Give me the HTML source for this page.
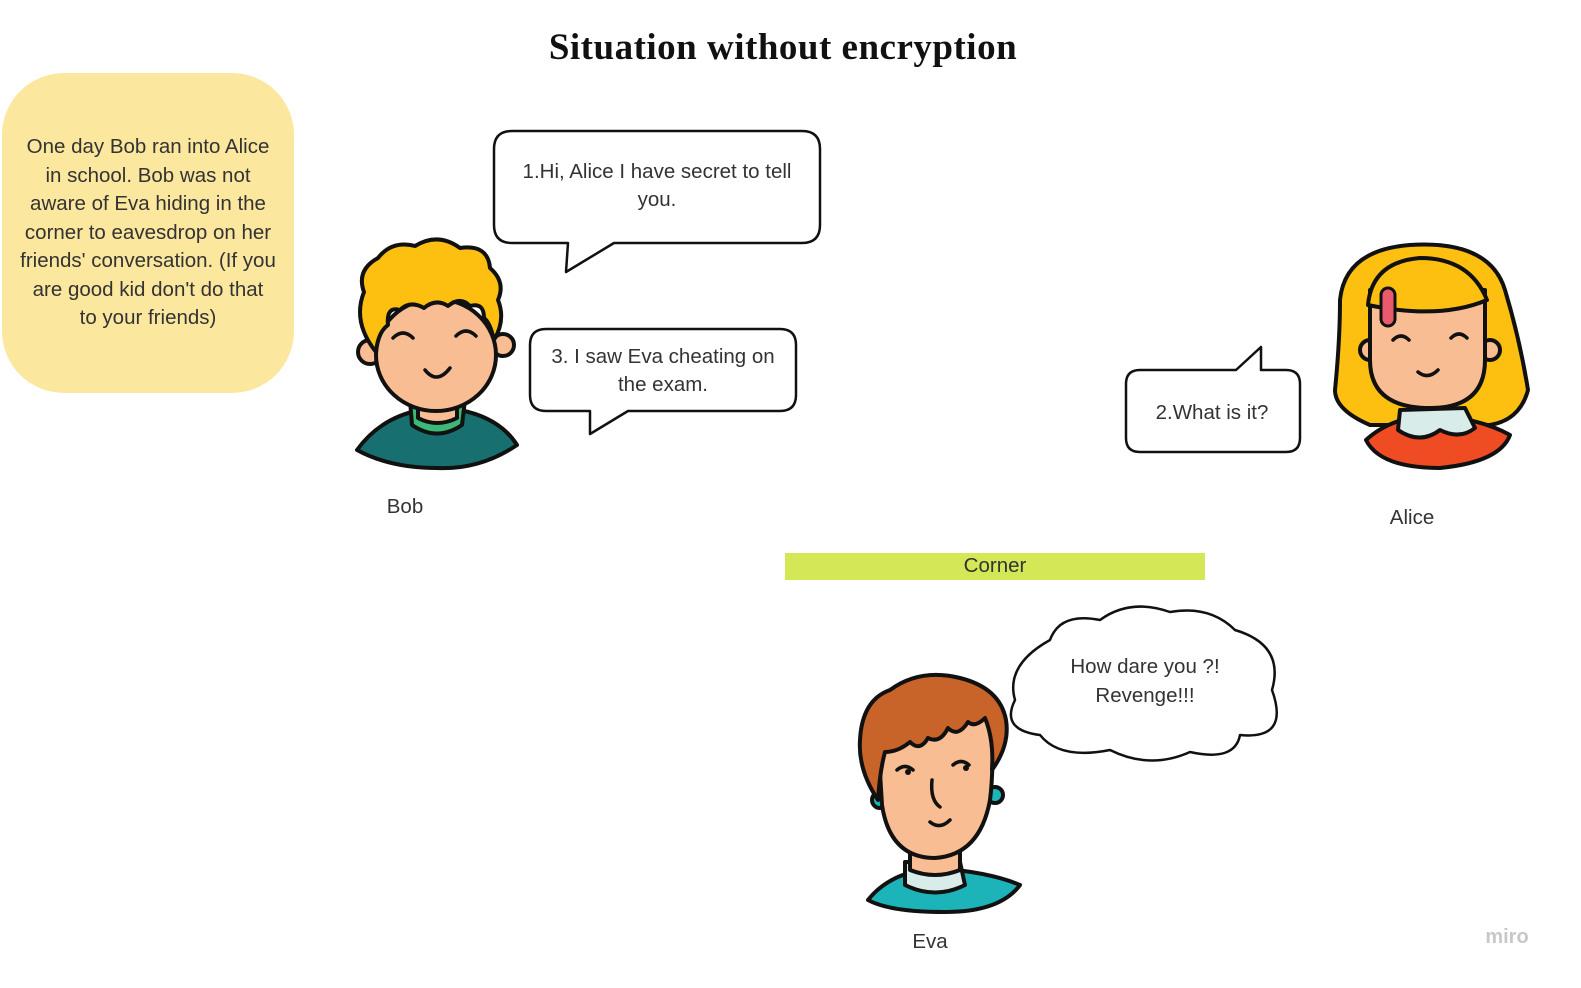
<!DOCTYPE html>
<html><head><meta charset="utf-8"><style>
html,body{margin:0;padding:0;background:#fff;}
svg{display:block}
text{font-family:"Liberation Sans",sans-serif;fill:#333;}
</style></head><body>
<svg width="1581" height="988" viewBox="0 0 1581 988" xmlns="http://www.w3.org/2000/svg">
<text x="783" y="59" text-anchor="middle" style="font-family:'Liberation Serif',serif;font-weight:bold;font-size:37px;letter-spacing:0.5px;fill:#111">Situation without  encryption</text>

<rect x="2" y="73" width="292" height="320" rx="62" fill="#fce79f"/>
<g font-size="20.5" text-anchor="middle">
<text x="148" y="153">One day Bob ran into Alice</text>
<text x="148" y="182">in school. Bob was not</text>
<text x="148" y="210">aware of Eva hiding in the</text>
<text x="148" y="239">corner to eavesdrop on her</text>
<text x="148" y="267">friends' conversation. (If you</text>
<text x="148" y="296">are good kid don't do that</text>
<text x="148" y="324">to your friends)</text>
</g>

<g fill="#fff" stroke="#111" stroke-width="2.5" stroke-linejoin="round">
<path d="M512 131 H802 Q820 131 820 149 V225 Q820 243 802 243 H614 L566 272 L568 243 H512 Q494 243 494 225 V149 Q494 131 512 131 Z"/>
<path d="M546 329 H780 Q796 329 796 345 V395 Q796 411 780 411 H628 L590 434 L590 411 H546 Q530 411 530 395 V345 Q530 329 546 329 Z"/>
<path d="M1140 370 H1236 L1261 347 V370 H1286 Q1300 370 1300 384 V438 Q1300 452 1286 452 H1140 Q1126 452 1126 438 V384 Q1126 370 1140 370 Z"/>
<path d="M1050 640 Q1060 612 1100 620 Q1130 598 1170 612 Q1210 605 1235 630 Q1285 645 1272 690 Q1290 740 1240 735 Q1235 762 1190 752 Q1150 770 1110 750 Q1060 760 1040 735 Q1000 730 1015 700 Q1005 665 1050 640 Z"/>
</g>
<g font-size="20.5" text-anchor="middle">
<text x="657" y="178">1.Hi, Alice I have secret to tell</text>
<text x="657" y="206">you.</text>
<text x="663" y="363">3. I saw Eva cheating on</text>
<text x="663" y="391">the exam.</text>
<text x="1212" y="419">2.What is it?</text>
<text x="1145" y="673">How dare you ?!</text>
<text x="1145" y="702">Revenge!!!</text>
</g>

<rect x="785" y="553" width="420" height="27" fill="#d4e857"/>
<text x="995" y="572" font-size="20.5" text-anchor="middle">Corner</text>

<g font-size="20.5" text-anchor="middle">
<text x="405" y="513">Bob</text>
<text x="1412" y="524">Alice</text>
<text x="930" y="948">Eva</text>
</g>
<text x="1507" y="943" font-size="20" text-anchor="middle" style="fill:#c8c8c8;font-weight:bold">miro</text>

<!-- Bob -->
<g stroke="#111" stroke-width="4" stroke-linejoin="round" stroke-linecap="round">
<path d="M357 450 Q380 418 420 410 H460 Q500 418 517 445 Q480 470 437 468 Q390 468 357 450 Z" fill="#17706f"/>
<path d="M410 400 L412 425 Q437 442 462 425 L465 400 Z" fill="#3cb878"/>
<path d="M418 395 V418 Q437 428 457 418 V395 Z" fill="#f9bd93"/>
<circle cx="370" cy="352" r="12" fill="#f9bd93"/>
<circle cx="503" cy="345" r="11" fill="#f9bd93"/>
<ellipse cx="436" cy="355" rx="60" ry="56" fill="#f9bd93"/>
<path d="M376 352 Q352 322 364 292 Q356 270 378 258 Q392 240 415 246 Q438 232 460 248 Q488 244 490 268 Q506 282 498 300 Q506 320 494 340 Q490 322 484 318 Q484 302 470 306 Q460 296 448 306 Q436 298 424 308 Q410 300 400 310 Q386 306 388 325 Q378 332 376 352 Z" fill="#fdc010"/>
<path d="M393 338 Q403 328 413 338 M456 336 Q466 326 476 336" fill="none" stroke-width="3.5"/>
<path d="M425 370 Q437 385 450 368" fill="none" stroke-width="3.5"/>
</g>

<!-- Alice -->
<g stroke="#111" stroke-width="4" stroke-linejoin="round" stroke-linecap="round">
<path d="M1340 300 Q1345 250 1410 245 Q1490 240 1505 290 Q1520 340 1528 390 Q1520 420 1490 425 L1370 425 Q1335 410 1335 390 Q1340 340 1340 300 Z" fill="#fdc010"/>
<path d="M1366 440 Q1390 418 1430 415 Q1480 418 1510 435 Q1500 462 1440 468 Q1380 468 1366 440 Z" fill="#f04c24"/>
<path d="M1400 410 L1398 430 Q1420 445 1440 430 Q1460 440 1475 428 L1465 408 Z" fill="#d8ecea"/>
<circle cx="1370" cy="350" r="10" fill="#f9bd93"/>
<circle cx="1490" cy="350" r="10" fill="#f9bd93"/>
<path d="M1370 290 H1485 V360 Q1485 408 1430 408 Q1370 408 1370 360 Z" fill="#f9bd93"/>
<path d="M1368 305 Q1372 262 1420 258 Q1470 258 1487 300 Q1440 320 1368 305 Z" fill="#fdc010"/>
<rect x="1381" y="288" width="14" height="38" rx="7" fill="#e85a6c" stroke-width="3"/>
<path d="M1393 340 Q1401 332 1409 340 M1451 338 Q1459 330 1467 338" fill="none" stroke-width="3.5"/>
<path d="M1418 372 Q1428 380 1438 370" fill="none" stroke-width="3.5"/>
</g>

<!-- Eva -->
<g stroke="#111" stroke-width="4" stroke-linejoin="round" stroke-linecap="round">
<path d="M868 900 Q890 872 935 868 Q990 872 1020 885 Q1000 912 945 912 Q890 912 868 900 Z" fill="#1db4b9"/>
<path d="M905 862 L905 885 Q935 900 965 885 L960 862 Z" fill="#d8ecea"/>
<path d="M910 840 V870 Q935 880 960 870 V840 Z" fill="#f9bd93"/>
<circle cx="880" cy="800" r="8" fill="#1db4b9"/>
<circle cx="995" cy="795" r="8" fill="#1db4b9"/>
<path d="M878 740 Q876 700 900 700 H990 Q995 760 990 800 Q980 855 935 858 Q890 858 882 805 Z" fill="#f9bd93"/>
<path d="M878 800 Q858 770 860 740 Q862 700 890 690 Q920 668 960 678 Q1000 688 1006 720 Q1010 745 992 770 Q994 740 985 718 Q975 728 968 722 Q958 738 948 728 Q940 744 928 738 Q920 752 910 742 Q898 752 885 752 Q880 770 878 800 Z" fill="#c8642a"/>
<path d="M897 770 Q905 763 913 770 M953 765 Q961 758 969 765" fill="none" stroke-width="3.5"/>
<circle cx="908" cy="772" r="3" fill="#111" stroke="none"/><circle cx="966" cy="768" r="3" fill="#111" stroke="none"/>
<path d="M932 780 Q930 800 940 807" fill="none" stroke-width="3.5"/>
<path d="M930 822 Q940 830 950 820" fill="none" stroke-width="3.5"/>
</g>
</svg>
</body></html>
